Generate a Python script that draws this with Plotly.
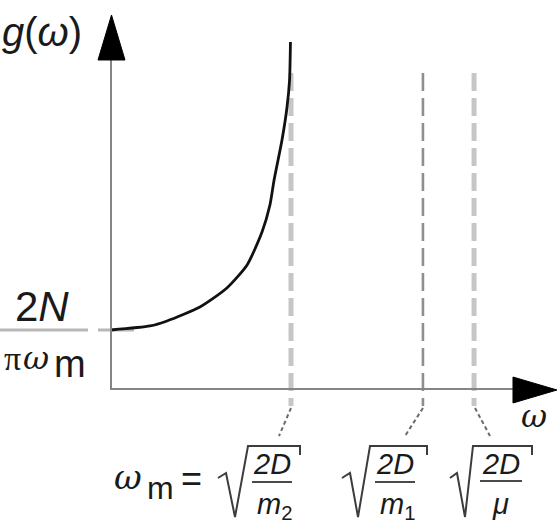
import plotly.graph_objects as go

# ---------------- data (omega in units of omega_m, g in units of 2N/(pi*omega_m)) -------------
omega_curve = [0.0, 0.217, 0.311, 0.494, 0.644, 0.756, 0.839, 0.883, 0.906, 0.950, 0.978, 0.992, 0.997]
g_curve = [1.0, 1.068, 1.153, 1.390, 1.712, 2.102, 2.661, 3.119, 3.542, 4.220, 4.780, 5.237, 5.881]

marker_names = ["omega_m", "omega_1", "omega_mu"]
marker_omegas = [1.0, 1.733, 2.017]
g0_level = 1.0

W, H = 560, 532
X0PX, XSCALE = 111, 180.0   # pixel of omega=0, pixels per unit
Y0PX, YSCALE = 389, 59.0    # pixel of g=0, pixels per unit

def px(x):
    return x / W

def py(y):
    return 1 - y / H

def path(points):
    return "M " + " L ".join(f"{px(a):.5f},{py(b):.5f}" for a, b in points)

fig = go.Figure()

# curve
fig.add_trace(go.Scatter(x=omega_curve, y=g_curve, mode="lines",
                         line=dict(color="#111111", width=2.8, shape="spline", smoothing=0.6),
                         hoverinfo="skip", showlegend=False))

shapes = []
# vertical dashed marker lines
marker_styles = [dict(color="#c6c6c6", width=5), dict(color="#8e8e8e", width=2.6), dict(color="#c6c6c6", width=5)]
for om, st in zip(marker_omegas, marker_styles):
    shapes.append(dict(type="line", xref="x", yref="paper", x0=om, x1=om, y0=py(73), y1=py(406),
                       line=dict(color=st["color"], width=st["width"], dash="18px,7px"), layer="below"))

# horizontal level line (fraction bar of 2N / pi omega_m) + dash to axis
shapes.append(dict(type="line", xref="paper", yref="y", x0=px(0), x1=px(88), y0=g0_level, y1=g0_level,
                   line=dict(color="#b8b8b8", width=3)))
shapes.append(dict(type="line", xref="paper", yref="y", x0=px(98), x1=px(134), y0=g0_level, y1=g0_level,
                   line=dict(color="#b8b8b8", width=3), layer="below"))

# axes
shapes.append(dict(type="line", xref="paper", yref="paper", x0=px(111), x1=px(111), y0=py(389), y1=py(55),
                   line=dict(color="#858585", width=2)))
shapes.append(dict(type="line", xref="paper", yref="paper", x0=px(110), x1=px(520), y0=py(389), y1=py(389),
                   line=dict(color="#858585", width=2)))
# arrow heads
shapes.append(dict(type="path", xref="paper", yref="paper",
                   path=path([(111.5, 15), (125, 60), (98, 60)]) + " Z",
                   fillcolor="#000000", line=dict(color="#000000", width=1)))
shapes.append(dict(type="path", xref="paper", yref="paper",
                   path=path([(557, 390), (513, 403), (513, 377)]) + " Z",
                   fillcolor="#000000", line=dict(color="#000000", width=1)))

# leader lines
leaders = [((291, 408), (279, 436)), ((423, 408), (405, 436)), ((475, 408), (490, 436))]
for a, b in leaders:
    shapes.append(dict(type="line", xref="paper", yref="paper", x0=px(a[0]), y0=py(a[1]), x1=px(b[0]), y1=py(b[1]),
                       line=dict(color="#6a6a6a", width=2, dash="4px,3px")))

# radicals and fraction bars
radicals = [
    [(218, 478), (226, 473), (235, 517), (248, 446), (300, 446), (300, 455)],
    [(342, 478), (350, 473), (358, 517), (370, 446), (427, 446), (427, 455)],
    [(450, 478), (457, 473), (465, 517), (473, 446), (532, 446), (532, 455)],
]
for r in radicals:
    shapes.append(dict(type="path", xref="paper", yref="paper", path=path(r),
                       line=dict(color="#3c3c3c", width=2)))
bars = [(252, 292, 482), (375, 415, 482), (480, 522, 481)]
for x0, x1, yy in bars:
    shapes.append(dict(type="line", xref="paper", yref="paper", x0=px(x0), x1=px(x1), y0=py(yy), y1=py(yy),
                       line=dict(color="#4a4a4a", width=2)))

SANS = "Liberation Sans Narrow, Liberation Sans, Arial, sans-serif"
SERIF = "DejaVu Serif, Liberation Serif, serif"
LSERIF = "Liberation Serif, DejaVu Serif, serif"
TXT = "#1a1a1a"

annotations = []
def label(text, x, y, size, family=SANS, color=TXT):
    annotations.append(dict(text=text, x=px(x), y=py(y), xref="paper", yref="paper",
                            xanchor="center", yanchor="middle", showarrow=False,
                            font=dict(size=size, family=family, color=color)))

label("<i>g</i>(<i>ω</i>)", 42, 32, 40)
label("2<i>N</i>", 42, 306, 42)
label("π", 12, 358, 34, LSERIF)
label("<i>ω</i>", 36, 358, 32, SERIF)
label("m", 70, 364, 38)
label("<i>ω</i>", 534, 416, 32, SERIF)

label("<i>ω</i>", 128, 477, 34, SERIF)
label("m", 160, 488, 32)
label("=", 191, 478, 36)
label("<i>2D</i>", 272, 464, 29)
label("<i>m</i><sub>2</sub>", 274, 506, 29)
label("<i>2D</i>", 395, 464, 29)
label("<i>m</i><sub>1</sub>", 397, 506, 29)
label("<i>2D</i>", 501, 464, 29)
label("<i>μ</i>", 500, 504, 29)

fig.update_layout(
    width=W, height=H,
    margin=dict(l=0, r=0, t=0, b=0),
    paper_bgcolor="white", plot_bgcolor="white",
    xaxis=dict(range=[-X0PX / XSCALE, (W - X0PX) / XSCALE], visible=False, fixedrange=True),
    yaxis=dict(range=[(Y0PX - H) / YSCALE, Y0PX / YSCALE], visible=False, fixedrange=True),
    shapes=shapes, annotations=annotations, showlegend=False,
)

fig.write_html("out.html", config=dict(displayModeBar=False),
               post_script="document.body.style.margin='0';document.body.style.overflow='hidden';")
